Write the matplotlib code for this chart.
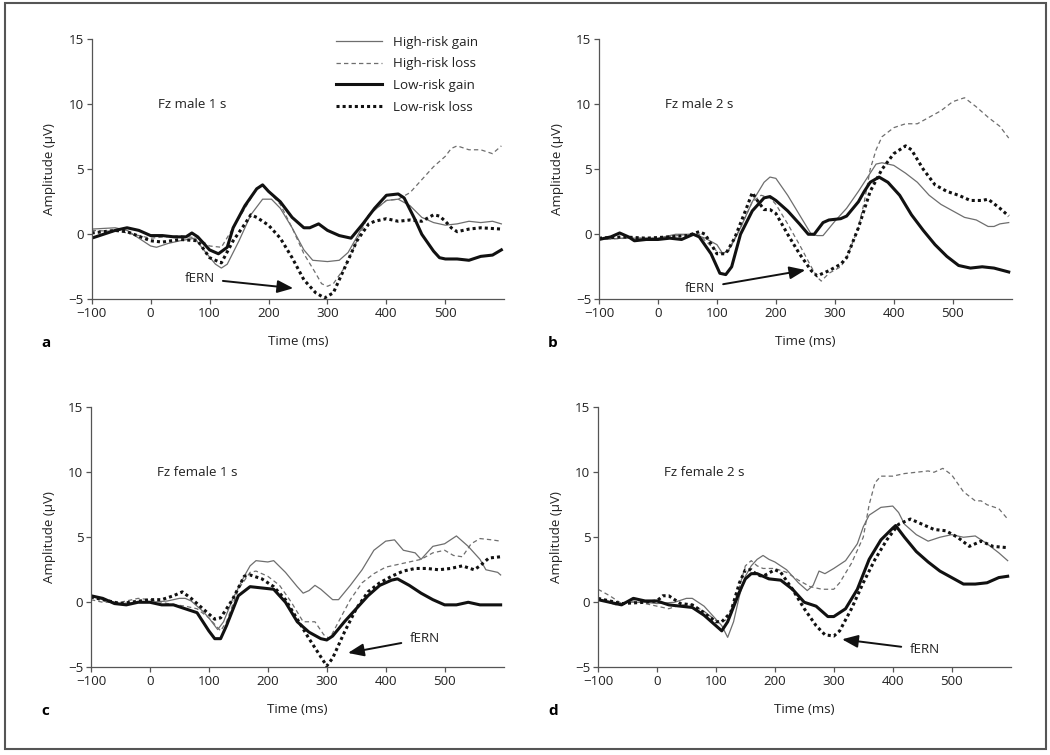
import matplotlib.pyplot as plt
from matplotlib.patches import Rectangle

plt.rcParams['font.family'] = ['Open Sans', 'DejaVu Sans']
plt.rcParams['font.size'] = 9.6

labels = ['High-risk gain', 'High-risk loss', 'Low-risk gain', 'Low-risk loss']
titles = ['Fz male 1 s', 'Fz male 2 s', 'Fz female 1 s', 'Fz female 2 s']
letters = ['a', 'b', 'c', 'd']
xticks = [-100, 0, 100, 200, 300, 400, 500]
yticks = [-5, 0, 5, 10, 15]

# (time ms, amplitude uV)
a_hr_gain = [(-100, 0.4), (-60, 0.5), (-40, 0.3), (-20, -0.3), (0, -0.9), (10, -1.0), (30, -0.7),
             (50, -0.5), (75, -0.3), (90, -1.2), (110, -2.3), (120, -2.6), (130, -2.3), (150, -0.5),
             (170, 1.5), (190, 2.7), (205, 2.7), (220, 2.0), (240, 0.5), (260, -1.2), (275, -2.0),
             (300, -2.1), (320, -2.0), (335, -1.4), (350, -0.2), (370, 1.5), (400, 2.6), (420, 2.7),
             (440, 2.2), (460, 1.3), (480, 0.9), (500, 0.7), (520, 0.8), (540, 1.0), (560, 0.9),
             (580, 1.0), (595, 0.8)]
a_hr_loss = [(-100, 0.3), (-50, 0.2), (0, -0.3), (50, -0.1), (80, -0.3), (100, -0.9), (120, -1.0),
             (140, 0.5), (160, 2.0), (180, 3.5), (190, 3.8), (200, 3.3), (220, 2.3), (240, 0.5),
             (260, -1.5), (280, -3.0), (290, -3.8), (300, -4.0), (310, -3.8), (330, -2.5), (350, -0.5),
             (370, 1.5), (400, 2.6), (420, 2.7), (440, 3.2), (460, 4.2), (480, 5.2), (500, 6.0),
             (510, 6.6), (520, 6.8), (540, 6.5), (560, 6.5), (580, 6.2), (595, 6.8)]
a_lr_gain = [(-100, -0.3), (-80, 0.0), (-60, 0.3), (-40, 0.5), (-20, 0.3), (0, -0.1), (20, -0.1),
             (40, -0.2), (60, -0.2), (70, 0.1), (80, -0.2), (100, -1.2), (115, -1.5), (130, -1.0),
             (140, 0.5), (160, 2.2), (180, 3.5), (190, 3.8), (200, 3.3), (220, 2.5), (240, 1.3),
             (260, 0.5), (270, 0.5), (285, 0.8), (300, 0.3), (320, -0.1), (340, -0.3), (360, 0.8),
             (380, 2.0), (400, 3.0), (420, 3.1), (430, 2.8), (450, 1.0), (460, 0.0), (480, -1.3),
             (490, -1.8), (500, -1.9), (520, -1.9), (540, -2.0), (560, -1.7), (580, -1.6), (595, -1.2)]
a_lr_loss = [(-100, 0.1), (-60, 0.3), (-40, 0.2), (0, -0.5), (20, -0.6), (50, -0.4), (80, -0.5),
             (100, -1.8), (120, -2.2), (140, -0.5), (160, 0.8), (170, 1.5), (180, 1.3), (200, 0.7),
             (220, -0.3), (240, -1.8), (260, -3.5), (280, -4.5), (295, -4.9), (310, -4.5), (330, -2.5),
             (350, -0.5), (370, 0.8), (380, 1.0), (400, 1.2), (420, 1.0), (440, 1.1), (460, 1.0),
             (480, 1.5), (490, 1.4), (500, 1.0), (510, 0.5), (520, 0.2), (540, 0.4), (560, 0.5),
             (595, 0.4)]

b_hr_gain = [(-100, -0.4), (-60, -0.3), (-20, -0.3), (0, -0.3), (30, 0.0), (60, 0.0), (80, -0.3),
             (100, -0.8), (110, -1.5), (120, -1.2), (140, 0.5), (160, 2.5), (180, 4.0), (190, 4.4),
             (200, 4.3), (220, 3.0), (240, 1.5), (260, 0.0), (270, -0.1), (280, -0.1), (300, 1.0),
             (320, 2.0), (340, 3.3), (360, 4.7), (370, 5.4), (380, 5.5), (400, 5.3), (420, 4.7),
             (440, 4.0), (460, 3.0), (480, 2.3), (500, 1.8), (520, 1.3), (540, 1.1), (560, 0.6),
             (570, 0.6), (580, 0.8), (595, 0.9)]
b_hr_loss = [(-100, -0.4), (-50, -0.3), (0, -0.3), (50, 0.0), (70, 0.0), (80, -0.5), (100, -1.3),
             (110, -1.5), (120, -1.3), (140, 0.5), (160, 2.5), (175, 3.0), (190, 2.8), (200, 2.3),
             (220, 0.8), (240, -0.8), (260, -2.5), (270, -3.3), (277, -3.6), (290, -3.0), (310, -2.5),
             (320, -1.8), (340, 0.5), (350, 2.5), (360, 5.0), (370, 6.5), (380, 7.5), (400, 8.2),
             (420, 8.5), (440, 8.5), (460, 9.0), (480, 9.5), (500, 10.2), (520, 10.5), (540, 9.8),
             (560, 9.0), (580, 8.3), (595, 7.4)]
b_lr_gain = [(-100, -0.4), (-80, -0.2), (-65, 0.1), (-50, -0.2), (-40, -0.5), (-20, -0.4), (0, -0.4),
             (20, -0.3), (40, -0.4), (60, 0.0), (70, -0.2), (90, -1.5), (105, -3.0), (115, -3.1),
             (125, -2.5), (140, 0.0), (160, 1.8), (180, 2.8), (190, 2.9), (200, 2.6), (220, 1.8),
             (240, 0.8), (255, 0.0), (265, 0.0), (280, 0.9), (290, 1.1), (310, 1.2), (320, 1.4),
             (340, 2.5), (350, 3.3), (360, 4.0), (375, 4.4), (390, 4.0), (410, 3.0), (430, 1.5),
             (450, 0.3), (470, -0.8), (490, -1.7), (510, -2.4), (530, -2.6), (550, -2.5), (570, -2.6),
             (595, -2.9)]
b_lr_loss = [(-100, -0.3), (-60, -0.2), (-20, -0.3), (20, -0.2), (50, -0.1), (70, 0.2), (80, 0.0),
             (100, -1.5), (115, -1.5), (130, -0.3), (150, 2.0), (160, 3.2), (170, 2.5), (180, 1.9),
             (190, 1.9), (200, 1.6), (220, 0.0), (240, -1.5), (260, -2.8), (270, -3.2), (290, -2.8),
             (310, -2.3), (320, -1.8), (340, 0.5), (360, 3.3), (380, 5.0), (400, 6.2), (420, 6.8),
             (430, 6.5), (450, 5.0), (470, 3.8), (490, 3.3), (510, 3.0), (530, 2.6), (550, 2.6),
             (560, 2.7), (580, 2.0), (595, 1.4)]

c_hr_gain = [(-100, 0.5), (-80, 0.2), (-50, -0.1), (-20, 0.0), (0, 0.0), (30, 0.1), (50, 0.3),
             (60, 0.3), (70, 0.1), (90, -0.7), (100, -1.2), (115, -2.1), (125, -1.5), (140, 0.2),
             (160, 2.0), (170, 2.8), (180, 3.2), (200, 3.1), (210, 3.2), (230, 2.3), (250, 1.2),
             (260, 0.7), (270, 0.9), (280, 1.3), (290, 1.0), (300, 0.6), (310, 0.2), (320, 0.2),
             (340, 1.3), (360, 2.5), (380, 4.0), (400, 4.7), (415, 4.8), (430, 4.0), (450, 3.8),
             (460, 3.3), (470, 3.8), (480, 4.3), (500, 4.5), (520, 5.1), (540, 4.3), (560, 3.3),
             (570, 2.5), (590, 2.3), (595, 2.1)]
c_hr_loss = [(-100, 0.2), (-80, 0.0), (-50, 0.0), (-20, 0.3), (0, 0.2), (30, -0.1), (60, -0.3),
             (80, -0.5), (100, -1.2), (120, -2.2), (130, -1.5), (150, 1.0), (170, 2.3), (180, 2.4),
             (200, 2.0), (220, 1.3), (240, 0.0), (260, -1.5), (280, -1.5), (295, -2.5), (305, -2.8),
             (320, -1.5), (340, 0.2), (360, 1.5), (380, 2.2), (400, 2.7), (420, 2.9), (440, 3.1),
             (460, 3.3), (480, 3.8), (500, 4.0), (515, 3.6), (530, 3.5), (545, 4.5), (560, 4.9),
             (580, 4.8), (595, 4.7)]
c_lr_gain = [(-100, 0.5), (-80, 0.3), (-60, -0.1), (-40, -0.2), (-20, 0.0), (0, 0.0), (20, -0.2),
             (40, -0.2), (60, -0.5), (80, -0.8), (100, -2.2), (110, -2.8), (120, -2.8), (130, -1.8),
             (150, 0.5), (170, 1.2), (190, 1.1), (210, 1.0), (230, 0.0), (250, -1.5), (270, -2.3),
             (290, -2.8), (300, -2.9), (310, -2.6), (330, -1.5), (350, -0.5), (370, 0.5), (390, 1.3),
             (410, 1.7), (420, 1.8), (440, 1.3), (460, 0.7), (480, 0.2), (500, -0.2), (520, -0.2),
             (540, 0.0), (560, -0.2), (580, -0.2), (595, -0.2)]
c_lr_loss = [(-100, 0.4), (-80, 0.2), (-50, -0.1), (0, 0.2), (20, 0.2), (40, 0.5), (55, 0.8),
             (70, 0.3), (90, -0.5), (110, -1.3), (120, -1.2), (140, 0.2), (160, 2.0), (170, 2.1),
             (190, 1.8), (210, 1.2), (230, 0.2), (250, -1.3), (270, -2.8), (290, -4.2), (300, -4.9),
             (310, -4.3), (330, -2.3), (350, -0.5), (370, 0.8), (390, 1.5), (410, 2.0), (430, 2.4),
             (450, 2.6), (470, 2.6), (490, 2.5), (510, 2.6), (530, 2.8), (550, 2.5), (560, 2.8),
             (575, 3.4), (595, 3.5)]

d_hr_gain = [(-100, 0.3), (-70, -0.2), (-50, 0.0), (-20, 0.0), (0, -0.1), (30, 0.0), (50, 0.3),
             (60, 0.3), (80, -0.3), (100, -1.3), (110, -1.8), (120, -2.7), (130, -1.5), (140, 0.5),
             (150, 2.0), (160, 2.8), (170, 3.3), (180, 3.6), (190, 3.3), (200, 3.1), (220, 2.5),
             (240, 1.5), (255, 0.9), (265, 1.3), (275, 2.4), (285, 2.2), (300, 2.6), (320, 3.2),
             (340, 4.5), (350, 5.8), (360, 6.7), (380, 7.3), (400, 7.4), (410, 6.9), (420, 6.0),
             (440, 5.2), (460, 4.7), (480, 5.0), (500, 5.2), (520, 5.0), (540, 5.1), (560, 4.5),
             (580, 3.8), (595, 3.2)]
d_hr_loss = [(-100, 1.0), (-80, 0.5), (-60, -0.1), (-40, 0.1), (-20, -0.1), (0, -0.3), (20, -0.5),
             (40, -0.2), (60, -0.2), (80, -0.7), (100, -1.4), (110, -1.5), (120, -1.3), (140, 1.2),
             (150, 2.8), (160, 3.2), (170, 2.8), (180, 2.6), (200, 2.6), (220, 2.3), (240, 1.7),
             (260, 1.2), (280, 1.0), (300, 1.0), (310, 1.5), (330, 3.0), (350, 5.0), (360, 7.5),
             (370, 9.2), (380, 9.7), (400, 9.7), (420, 9.9), (440, 10.0), (460, 10.1), (470, 10.0),
             (485, 10.3), (500, 9.8), (520, 8.5), (540, 7.8), (550, 7.8), (560, 7.5), (580, 7.2),
             (595, 6.4)]
d_lr_gain = [(-100, 0.2), (-80, 0.0), (-60, -0.2), (-40, 0.3), (-20, 0.1), (0, 0.1), (20, -0.2),
             (40, -0.3), (60, -0.4), (80, -1.0), (100, -1.8), (110, -2.2), (120, -1.5), (140, 0.8),
             (150, 1.8), (160, 2.2), (170, 2.2), (190, 1.8), (210, 1.7), (230, 1.0), (250, 0.0),
             (270, -0.3), (290, -1.1), (300, -1.1), (320, -0.5), (340, 1.0), (360, 3.3), (380, 4.8),
             (400, 5.7), (405, 5.9), (420, 5.0), (440, 3.9), (460, 3.1), (480, 2.4), (500, 1.9),
             (520, 1.4), (540, 1.4), (560, 1.5), (580, 1.9), (595, 2.0)]
d_lr_loss = [(-100, 0.3), (-80, 0.1), (-60, -0.1), (-20, 0.0), (0, 0.1), (10, 0.5), (20, 0.5),
             (40, -0.1), (60, -0.2), (80, -0.8), (100, -1.5), (110, -1.5), (125, -0.8), (140, 1.5),
             (150, 2.5), (160, 2.5), (170, 2.1), (180, 2.0), (200, 2.5), (210, 2.3), (230, 1.0),
             (250, -0.5), (270, -1.8), (285, -2.5), (300, -2.6), (310, -2.2), (330, -0.5), (350, 1.5),
             (370, 3.3), (390, 4.8), (410, 6.0), (430, 6.4), (450, 6.0), (470, 5.6), (490, 5.5),
             (510, 5.0), (530, 4.3), (550, 4.7), (570, 4.3), (595, 4.2)]

panels = [
    [a_hr_gain, a_hr_loss, a_lr_gain, a_lr_loss],
    [b_hr_gain, b_hr_loss, b_lr_gain, b_lr_loss],
    [c_hr_gain, c_hr_loss, c_lr_gain, c_lr_loss],
    [d_hr_gain, d_hr_loss, d_lr_gain, d_lr_loss],
]

# fERN label position and arrow tip per panel
fern_text = [(83, -3.4), (71, -4.15), (466, -2.8), (454, -3.65)]
fern_tip = [(242, -4.15), (250, -2.75), (336, -3.9), (314, -2.85)]

styles = [
    dict(color='#6e6e6e', lw=0.9, ls='-'),
    dict(color='#6e6e6e', lw=0.9, dashes=(3.5, 2.5)),
    dict(color='#111111', lw=2.2, ls='-'),
    dict(color='#111111', lw=2.2, dashes=(1, 1)),
]

fig = plt.figure(figsize=(10.5, 7.55), dpi=100)
fig.patches.append(Rectangle((5 / 1050, 1 - 749 / 755), 1041 / 1050, 746 / 755,
                             transform=fig.transFigure, fill=False,
                             edgecolor='#555555', lw=1.5))

boxes = [(0.0873, 0.6036), (0.5705, 0.6036), (0.0866, 0.1162), (0.5695, 0.1162)]
w, h = 0.393, 0.3444
letter_pos = [(0.039, 0.546), (0.522, 0.546), (0.039, 0.058), (0.522, 0.058)]

for k in range(4):
    ax = fig.add_axes([boxes[k][0], boxes[k][1], w, h])
    for series, lab, st in zip(panels[k], labels, styles):
        t = [p[0] for p in series]
        v = [p[1] for p in series]
        ax.plot(t, v, label=lab, solid_joinstyle='round', **st)
    ax.set_xlim(-100, 600)
    ax.set_ylim(-5, 15)
    ax.set_xticks(xticks)
    ax.set_yticks(yticks)
    ax.set_yticklabels(['\u22125', '0', '5', '10', '15'])
    ax.set_xticklabels(['\u2212100', '0', '100', '200', '300', '400', '500'])
    for s in ['top', 'right']:
        ax.spines[s].set_visible(False)
    for s in ['left', 'bottom']:
        ax.spines[s].set_color('#555555')
        ax.spines[s].set_linewidth(0.9)
    ax.tick_params(length=3.5, width=0.9, color='#555555', labelcolor='#222222', pad=2)
    ax.set_xlabel('Time (ms)', color='#222222', labelpad=11)
    ax.set_ylabel('Amplitude (\u00b5V)', color='#222222', labelpad=9)
    ax.text(12, 10, titles[k], ha='left', va='center', color='#222222')
    ax.annotate('fERN', xy=fern_tip[k], xytext=fern_text[k], ha='center', va='center',
                color='#222222',
                arrowprops=dict(arrowstyle='-|>,head_length=1.0,head_width=0.4',
                                color='#111111', lw=1.4, shrinkA=4, shrinkB=0))
    fig.text(letter_pos[k][0], letter_pos[k][1], letters[k], fontweight='bold',
             fontsize=11, ha='left', va='center')
    if k == 0:
        ax.legend(loc='upper left', bbox_to_anchor=(0.575, 1.04), frameon=False,
                  handlelength=3.5, handletextpad=0.8, labelspacing=0.66, borderpad=0,
                  labelcolor='#222222')

fig.savefig('out.png', dpi=100)
